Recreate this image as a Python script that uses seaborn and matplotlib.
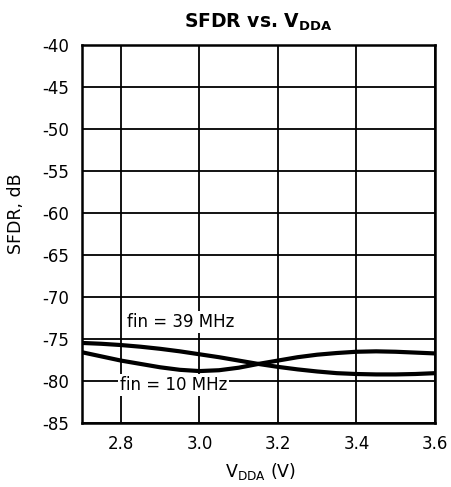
import pandas as pd
import seaborn as sns
import matplotlib.pyplot as plt

vdda = [2.70, 2.75, 2.80, 2.85, 2.90, 2.95, 3.00, 3.05, 3.10, 3.15,
        3.20, 3.25, 3.30, 3.35, 3.40, 3.45, 3.50, 3.55, 3.60]
sfdr_39 = [-75.5, -75.6, -75.75, -75.95, -76.2, -76.5, -76.85, -77.2, -77.6, -78.0,
           -78.35, -78.65, -78.9, -79.1, -79.2, -79.25, -79.25, -79.2, -79.1]
sfdr_10 = [-76.6, -77.1, -77.6, -78.0, -78.4, -78.7, -78.85, -78.75, -78.45, -78.0,
           -77.6, -77.2, -76.9, -76.7, -76.55, -76.5, -76.55, -76.65, -76.75]
series = ['fin = 39 MHz', 'fin = 10 MHz']
xticks = [2.8, 3.0, 3.2, 3.4, 3.6]
yticks = list(range(-85, -39, 5))

df = pd.DataFrame({
    'vdda': vdda * 2,
    'sfdr': sfdr_39 + sfdr_10,
    'fin': [series[0]] * len(vdda) + [series[1]] * len(vdda),
})

sns.set_style('white')
plt.rcParams['font.family'] = ['DejaVu Sans']
plt.rcParams['axes.unicode_minus'] = False
for k in ['text.color', 'axes.labelcolor', 'xtick.color', 'ytick.color']:
    plt.rcParams[k] = 'black'

fig = plt.figure(figsize=(4.51, 4.87), dpi=100)
ax = fig.add_axes([0.181, 0.132, 0.7835, 0.776])
sns.lineplot(data=df, x='vdda', y='sfdr', hue='fin', palette=['black', 'black'],
             linewidth=3.0, legend=False, ax=ax, zorder=3)

ax.set_xlim(2.7, 3.6)
ax.set_ylim(-85, -40)
ax.set_xticks(xticks)
ax.set_xticklabels([f'{t:.1f}' for t in xticks])
ax.set_yticks(yticks)
ax.grid(True, color='black', linewidth=1.3)
for s in ax.spines.values():
    s.set_color('black')
    s.set_linewidth(1.8)
ax.tick_params(length=0, pad=9, labelsize=12)

ax.set_title(r'SFDR vs. V$_\mathbf{DDA}$', fontsize=13.5, fontweight='bold', pad=12.5)
ax.set_xlabel(r'V$_\mathrm{DDA}$ (V)', fontsize=12.5)
ax.xaxis.set_label_coords(0.507, -0.10)
ax.set_ylabel('SFDR, dB', fontsize=12.5)
ax.yaxis.set_label_coords(-0.161, 0.552)

box = dict(facecolor='white', edgecolor='none', pad=1.5)
ax.text(2.815, -73.6, series[0], fontsize=12, va='baseline', ha='left', bbox=box, zorder=4)
ax.text(2.797, -81.1, series[1], fontsize=12, va='baseline', ha='left', bbox=box, zorder=2)

fig.savefig('out.png', dpi=100)
